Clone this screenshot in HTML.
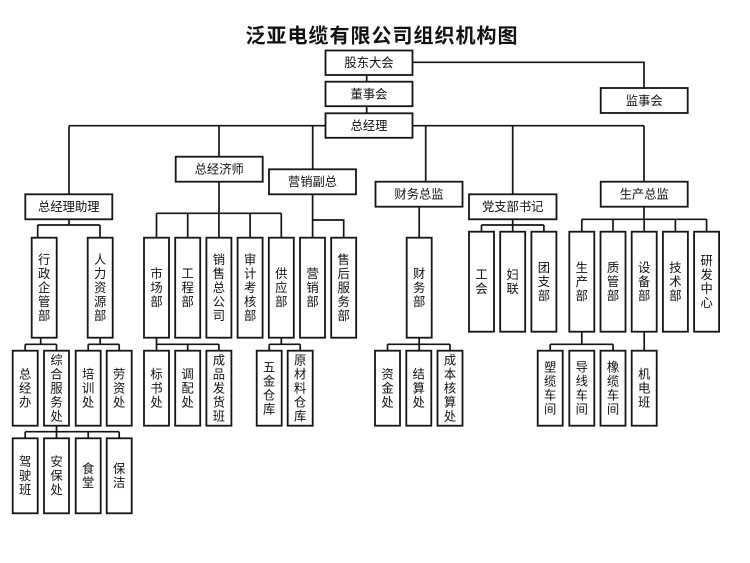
<!DOCTYPE html>
<html><head><meta charset="utf-8"><style>
html,body{margin:0;padding:0;background:#fff;}
svg{display:block;}
.t{font-family:"Liberation Sans","Noto Sans CJK SC",sans-serif;font-size:12.3px;fill:#111;text-anchor:middle;}
.ttl{font-family:"Liberation Sans","Noto Sans CJK SC",sans-serif;font-size:20px;font-weight:bold;fill:#111;text-anchor:middle;letter-spacing:1px;}
.b{fill:#fff;stroke:#151515;stroke-width:1.8;}
.l{fill:none;stroke:#151515;stroke-width:1.7;}
</style></head><body>
<svg width="750" height="563" viewBox="0 0 750 563" xmlns="http://www.w3.org/2000/svg">
<rect width="750" height="563" fill="#fff"/>
<text class="ttl" x="382" y="42.3">泛亚电缆有限公司组织机构图</text>

<path class="l" d="
M366.7 75V81.7 M366.7 106V113.3
M412.5 62.3H644V88
M69 125.7H644
M69 125.7V194.3 M219 125.7V156.7 M312.7 125.7V169.3 M425.7 125.7V181.7 M512.7 125.7V194.3 M644 125.7V181.7
M69 219.3V225 M37.7 225H100 M37.7 225V237.7 M100 225V237.7
M40.7 337.7V344.3 M25.2 344.3H56.5 M25.2 344.3V350.7 M56.5 344.3V350.7
M100.2 337.7V344.3 M88.2 344.3H119.2 M88.2 344.3V350.7 M119.2 344.3V350.7
M56.5 425.7V431.7 M25.2 431.7H119.2 M25.2 431.7V438.3 M56.5 431.7V438.3 M88.2 431.7V438.3 M119.2 431.7V438.3
M219 181.7V213.3 M156.5 213.3H281.3 M156.5 213.3V237.7 M187.7 213.3V237.7 M218.9 213.3V237.7 M250.1 213.3V237.7 M281.3 213.3V237.7
M312.6 194.3V237.7 M312.6 220H343.7V237.7
M156.5 337.7V350.7 M156.5 344.3H218.9 M187.7 344.3V350.7 M218.9 344.3V350.7
M281.3 337.7V344.3 M269.2 344.3H300.2 M269.2 344.3V350.7 M300.2 344.3V350.7
M419.2 206.7V237.7
M419.2 337.7V350.7 M387.5 344.3H450 M387.5 344.3V350.7 M450 344.3V350.7
M512.7 219.3V225 M481.5 225H543.9 M481.5 225V231.7 M512.7 225V231.7 M543.9 225V231.7
M644 206.7V219.3 M581.8 219.3H706.6 M581.8 219.3V231.7 M613 219.3V231.7 M644.2 219.3V231.7 M675.4 219.3V231.7 M706.6 219.3V231.7
M581.8 331.7V344.3 M550.2 344.3H613 M550.2 344.3V350.7 M613 344.3V350.7
M644.2 331.7V350.7
"/>

<!-- horizontal boxes -->
<rect class="b" x="325.5" y="50.5" width="87" height="24.5"/>
<rect class="b" x="325.5" y="81.7" width="87" height="24.5"/>
<rect class="b" x="325.5" y="113.3" width="87" height="24.5"/>
<rect class="b" x="600.7" y="88" width="87" height="25"/>
<rect class="b" x="175.7" y="156.7" width="87" height="25"/>
<rect class="b" x="269" y="169.3" width="87" height="25"/>
<rect class="b" x="25.3" y="194.3" width="87" height="25"/>
<rect class="b" x="375.5" y="181.7" width="87" height="25"/>
<rect class="b" x="469" y="194.3" width="87.5" height="25"/>
<rect class="b" x="600.7" y="181.7" width="87" height="25"/>

<text class="t" x="369" y="67">股东大会</text>
<text class="t" x="369" y="98.3">董事会</text>
<text class="t" x="369" y="129.8">总经理</text>
<text class="t" x="644.2" y="104.8">监事会</text>
<text class="t" x="219.2" y="173.5">总经济师</text>
<text class="t" x="312.5" y="186">营销副总</text>
<text class="t" x="68.8" y="211">总经理助理</text>
<text class="t" x="419" y="198.5">财务总监</text>
<text class="t" x="512.7" y="211">党支部书记</text>
<text class="t" x="644.2" y="198.5">生产总监</text>

<!-- Row A boxes -->
<g>
<rect class="b" x="31.7" y="237.7" width="25" height="100"/>
<rect class="b" x="87.7" y="237.7" width="25" height="100"/>
<rect class="b" x="144" y="237.7" width="25" height="100"/>
<rect class="b" x="175.2" y="237.7" width="25" height="100"/>
<rect class="b" x="206.4" y="237.7" width="25" height="100"/>
<rect class="b" x="237.6" y="237.7" width="25" height="100"/>
<rect class="b" x="268.8" y="237.7" width="25" height="100"/>
<rect class="b" x="300" y="237.7" width="25" height="100"/>
<rect class="b" x="331.2" y="237.7" width="25" height="100"/>
<rect class="b" x="406.7" y="237.7" width="25" height="100"/>
</g>
<!-- Row B boxes -->
<g>
<rect class="b" x="469" y="231.7" width="25" height="100"/>
<rect class="b" x="500.2" y="231.7" width="25" height="100"/>
<rect class="b" x="531.4" y="231.7" width="25" height="100"/>
<rect class="b" x="569.3" y="231.7" width="25" height="100"/>
<rect class="b" x="600.5" y="231.7" width="25" height="100"/>
<rect class="b" x="631.7" y="231.7" width="25" height="100"/>
<rect class="b" x="662.9" y="231.7" width="25" height="100"/>
<rect class="b" x="694.1" y="231.7" width="25" height="100"/>
</g>
<!-- Row C boxes -->
<g>
<rect class="b" x="12.7" y="350.7" width="25" height="75"/>
<rect class="b" x="44" y="350.7" width="25" height="75"/>
<rect class="b" x="75.7" y="350.7" width="25" height="75"/>
<rect class="b" x="106.7" y="350.7" width="25" height="75"/>
<rect class="b" x="144" y="350.7" width="25" height="75"/>
<rect class="b" x="175.2" y="350.7" width="25" height="75"/>
<rect class="b" x="206.4" y="350.7" width="25" height="75"/>
<rect class="b" x="256.7" y="350.7" width="25" height="75"/>
<rect class="b" x="287.7" y="350.7" width="25" height="75"/>
<rect class="b" x="375" y="350.7" width="25" height="75"/>
<rect class="b" x="406.3" y="350.7" width="25" height="75"/>
<rect class="b" x="437.5" y="350.7" width="25" height="75"/>
<rect class="b" x="537.7" y="350.7" width="25" height="75"/>
<rect class="b" x="569.3" y="350.7" width="25" height="75"/>
<rect class="b" x="600.5" y="350.7" width="25" height="75"/>
<rect class="b" x="631.7" y="350.7" width="25" height="75"/>
</g>
<!-- Row D boxes -->
<g>
<rect class="b" x="12.7" y="438.3" width="25" height="75"/>
<rect class="b" x="44" y="438.3" width="25" height="75"/>
<rect class="b" x="75.7" y="438.3" width="25" height="75"/>
<rect class="b" x="106.7" y="438.3" width="25" height="75"/>
</g>

<!-- Row A text -->
<text class="t"><tspan x="44.2" y="264">行</tspan><tspan x="44.2" y="278">政</tspan><tspan x="44.2" y="292">企</tspan><tspan x="44.2" y="306">管</tspan><tspan x="44.2" y="320">部</tspan></text>
<text class="t"><tspan x="100.2" y="264">人</tspan><tspan x="100.2" y="278">力</tspan><tspan x="100.2" y="292">资</tspan><tspan x="100.2" y="306">源</tspan><tspan x="100.2" y="320">部</tspan></text>
<text class="t"><tspan x="156.5" y="278">市</tspan><tspan x="156.5" y="292">场</tspan><tspan x="156.5" y="306">部</tspan></text>
<text class="t"><tspan x="187.7" y="278">工</tspan><tspan x="187.7" y="292">程</tspan><tspan x="187.7" y="306">部</tspan></text>
<text class="t"><tspan x="218.9" y="264">销</tspan><tspan x="218.9" y="278">售</tspan><tspan x="218.9" y="292">总</tspan><tspan x="218.9" y="306">公</tspan><tspan x="218.9" y="320">司</tspan></text>
<text class="t"><tspan x="250.1" y="264">审</tspan><tspan x="250.1" y="278">计</tspan><tspan x="250.1" y="292">考</tspan><tspan x="250.1" y="306">核</tspan><tspan x="250.1" y="320">部</tspan></text>
<text class="t"><tspan x="281.3" y="278">供</tspan><tspan x="281.3" y="292">应</tspan><tspan x="281.3" y="306">部</tspan></text>
<text class="t"><tspan x="312.5" y="278">营</tspan><tspan x="312.5" y="292">销</tspan><tspan x="312.5" y="306">部</tspan></text>
<text class="t"><tspan x="343.7" y="264">售</tspan><tspan x="343.7" y="278">后</tspan><tspan x="343.7" y="292">服</tspan><tspan x="343.7" y="306">务</tspan><tspan x="343.7" y="320">部</tspan></text>
<text class="t"><tspan x="419.2" y="278">财</tspan><tspan x="419.2" y="292">务</tspan><tspan x="419.2" y="306">部</tspan></text>

<!-- Row B text -->
<text class="t"><tspan x="481.5" y="279">工</tspan><tspan x="481.5" y="293">会</tspan></text>
<text class="t"><tspan x="512.7" y="279">妇</tspan><tspan x="512.7" y="293">联</tspan></text>
<text class="t"><tspan x="543.9" y="272">团</tspan><tspan x="543.9" y="286">支</tspan><tspan x="543.9" y="300">部</tspan></text>
<text class="t"><tspan x="581.8" y="272">生</tspan><tspan x="581.8" y="286">产</tspan><tspan x="581.8" y="300">部</tspan></text>
<text class="t"><tspan x="613" y="272">质</tspan><tspan x="613" y="286">管</tspan><tspan x="613" y="300">部</tspan></text>
<text class="t"><tspan x="644.2" y="272">设</tspan><tspan x="644.2" y="286">备</tspan><tspan x="644.2" y="300">部</tspan></text>
<text class="t"><tspan x="675.4" y="272">技</tspan><tspan x="675.4" y="286">术</tspan><tspan x="675.4" y="300">部</tspan></text>
<text class="t"><tspan x="706.6" y="265">研</tspan><tspan x="706.6" y="279">发</tspan><tspan x="706.6" y="293">中</tspan><tspan x="706.6" y="307">心</tspan></text>

<!-- Row C text -->
<text class="t"><tspan x="25.2" y="378.5">总</tspan><tspan x="25.2" y="392.5">经</tspan><tspan x="25.2" y="406.5">办</tspan></text>
<text class="t"><tspan x="56.5" y="364.5">综</tspan><tspan x="56.5" y="378.5">合</tspan><tspan x="56.5" y="392.5">服</tspan><tspan x="56.5" y="406.5">务</tspan><tspan x="56.5" y="420.5">处</tspan></text>
<text class="t"><tspan x="88.2" y="378.5">培</tspan><tspan x="88.2" y="392.5">训</tspan><tspan x="88.2" y="406.5">处</tspan></text>
<text class="t"><tspan x="119.2" y="378.5">劳</tspan><tspan x="119.2" y="392.5">资</tspan><tspan x="119.2" y="406.5">处</tspan></text>
<text class="t"><tspan x="156.5" y="378.5">标</tspan><tspan x="156.5" y="392.5">书</tspan><tspan x="156.5" y="406.5">处</tspan></text>
<text class="t"><tspan x="187.7" y="378.5">调</tspan><tspan x="187.7" y="392.5">配</tspan><tspan x="187.7" y="406.5">处</tspan></text>
<text class="t"><tspan x="218.9" y="364.5">成</tspan><tspan x="218.9" y="378.5">品</tspan><tspan x="218.9" y="392.5">发</tspan><tspan x="218.9" y="406.5">货</tspan><tspan x="218.9" y="420.5">班</tspan></text>
<text class="t"><tspan x="269.2" y="371.5">五</tspan><tspan x="269.2" y="385.5">金</tspan><tspan x="269.2" y="399.5">仓</tspan><tspan x="269.2" y="413.5">库</tspan></text>
<text class="t"><tspan x="300.2" y="364.5">原</tspan><tspan x="300.2" y="378.5">材</tspan><tspan x="300.2" y="392.5">料</tspan><tspan x="300.2" y="406.5">仓</tspan><tspan x="300.2" y="420.5">库</tspan></text>
<text class="t"><tspan x="387.5" y="378.5">资</tspan><tspan x="387.5" y="392.5">金</tspan><tspan x="387.5" y="406.5">处</tspan></text>
<text class="t"><tspan x="418.8" y="378.5">结</tspan><tspan x="418.8" y="392.5">算</tspan><tspan x="418.8" y="406.5">处</tspan></text>
<text class="t"><tspan x="450" y="364.5">成</tspan><tspan x="450" y="378.5">本</tspan><tspan x="450" y="392.5">核</tspan><tspan x="450" y="406.5">算</tspan><tspan x="450" y="420.5">处</tspan></text>
<text class="t"><tspan x="550.2" y="371.5">塑</tspan><tspan x="550.2" y="385.5">缆</tspan><tspan x="550.2" y="399.5">车</tspan><tspan x="550.2" y="413.5">间</tspan></text>
<text class="t"><tspan x="581.8" y="371.5">导</tspan><tspan x="581.8" y="385.5">线</tspan><tspan x="581.8" y="399.5">车</tspan><tspan x="581.8" y="413.5">间</tspan></text>
<text class="t"><tspan x="613" y="371.5">橡</tspan><tspan x="613" y="385.5">缆</tspan><tspan x="613" y="399.5">车</tspan><tspan x="613" y="413.5">间</tspan></text>
<text class="t"><tspan x="644.2" y="378.5">机</tspan><tspan x="644.2" y="392.5">电</tspan><tspan x="644.2" y="406.5">班</tspan></text>

<!-- Row D text -->
<text class="t"><tspan x="25.2" y="466">驾</tspan><tspan x="25.2" y="480">驶</tspan><tspan x="25.2" y="494">班</tspan></text>
<text class="t"><tspan x="56.5" y="466">安</tspan><tspan x="56.5" y="480">保</tspan><tspan x="56.5" y="494">处</tspan></text>
<text class="t"><tspan x="88.2" y="473">食</tspan><tspan x="88.2" y="487">堂</tspan></text>
<text class="t"><tspan x="119.2" y="473">保</tspan><tspan x="119.2" y="487">洁</tspan></text>
</svg>
</body></html>
